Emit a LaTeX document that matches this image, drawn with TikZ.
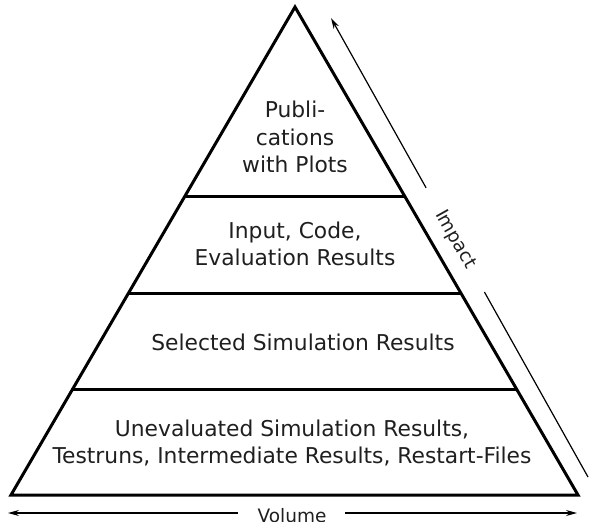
\documentclass[tikz,border=0pt]{standalone}
\usepackage{fontspec}
\setmainfont{DejaVu Sans}
\usetikzlibrary{arrows.meta,calc}
\begin{document}
\begin{tikzpicture}[x=1pt,y=-1pt,
 edge/.style={line width=3pt, line join=miter},
 band/.style={line width=3pt},
 lbl/.style={align=center, font=\fontsize{21.8}{27.5}\selectfont, text=black!88, inner sep=0pt},
 axis/.style={line width=1.2pt},
 axlbl/.style={font=\fontsize{18.5}{20}\selectfont, inner sep=0pt, text=black!88},
 tip/.style={-{Stealth[length=11pt,width=6pt]}}]
\useasboundingbox (0,0) rectangle (590,522);
\clip (0,0) rectangle (590,522);
% pyramid
\coordinate (apex) at (295,7);
\coordinate (bl) at (11,495);
\coordinate (br) at (578,495);
\draw[edge] (apex) -- (br) -- (bl) -- cycle;
\foreach \t/\n in {0.3893/a,0.5861/b,0.7848/c}{
  \coordinate (l\n) at ($(apex)!\t!(bl)$);
  \coordinate (r\n) at ($(apex)!\t!(br)$);
  \draw[band] (l\n) -- (r\n);
}
% labels
\node[lbl] (pub) at (295,137) {Publi-\\cations\\with Plots};
\node[lbl] (inp) at (295,244) {Input, Code,\\Evaluation Results};
\node[lbl] (sel) at (303,342) {Selected Simulation Results};
\node[lbl] (une) at (292,443) {Unevaluated Simulation Results,\\Testruns, Intermediate Results, Restart-Files};
% impact axis
\coordinate (impS) at (588,477);
\coordinate (impE) at (331,18);
\coordinate (impA) at ($(impE)!0.370!(impS)$);
\coordinate (impB) at ($(impE)!0.597!(impS)$);
\draw[axis,tip] (impA) -- (impE);
\draw[axis] (impB) -- (impS);
\node[axlbl, rotate=-60.75] (imp) at ($(impE)!0.483!(impS)$) {Impact};
% volume axis
\coordinate (volL) at (8,513);
\coordinate (volR) at (577,513);
\coordinate (volA) at (238,513);
\coordinate (volB) at (345,513);
\draw[axis,tip] (volA) -- (volL);
\draw[axis,tip] (volB) -- (volR);
\node[axlbl, anchor=base] (vol) at (292,522) {Volume};
\end{tikzpicture}
\end{document}
